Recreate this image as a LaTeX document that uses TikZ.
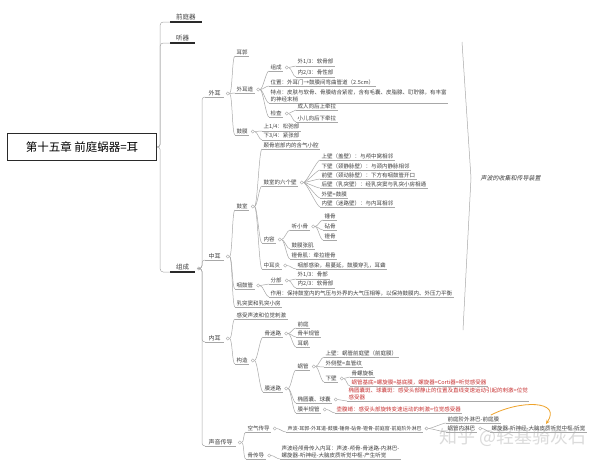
\documentclass[tikz,border=0pt]{standalone}
\usepackage{fontspec}
\setmainfont{Noto Sans CJK SC}
\newfontfamily\cjkit[FakeSlant=0.2]{Noto Sans CJK SC}
\usetikzlibrary{arrows.meta}
\definecolor{txt}{HTML}{404040}
\definecolor{ln}{HTML}{A8A8A8}
\definecolor{rd}{HTML}{C83232}
\definecolor{org}{HTML}{EFA32B}
\definecolor{wm}{HTML}{D2D2D2}
\definecolor{dk}{HTML}{2A2A2A}
\tikzset{
 item/.style={anchor=south west, inner xsep=1.5pt, inner ysep=1.2pt, text=txt, font=\fontsize{5.5}{6.3}\selectfont},
 topitem/.style={anchor=south west, inner xsep=6pt, inner ysep=1.5pt, text=txt, font=\fontsize{6.5}{7.5}\selectfont},
 uline/.style={draw=ln, line width=0.5pt},
 topline/.style={draw=dk, line width=1.3pt},
 conn/.style={draw=ln, line width=0.5pt},
 knob/.style={circle, draw=ln, line width=0.4pt, minimum size=3.2pt, inner sep=0pt, anchor=west},
 redtxt/.style={text=rd},
 rootbox/.style={draw=dk, line width=1.4pt, fill=white, minimum width=149pt, minimum height=27pt, font=\fontsize{11.5}{12}\selectfont, text=black},
 orarrow/.style={draw=org, line width=0.8pt, -{Stealth[length=4pt,width=3.5pt]}},
}
\newcommand\itm[4][]{\node[item,#1] (#2) at (#3) {#4};\draw[uline] (#2.south west) -- (#2.south east);}
\newcommand\topitm[3]{\node[topitem] (#1) at (#2) {#3};\draw[topline] (#1.south west) -- (#1.south east);}
\newcommand\knb[1]{\node[knob] (#1k) at ([xshift=1.5pt,yshift=3.5pt]#1.south east) {};}
\newcommand\cns[2]{\foreach \c in {#2}{\draw[conn] (#1k.east) .. controls +(3,0) and +(-3,0) .. (\c.south west);}}
\begin{document}
\begin{tikzpicture}[x=1pt,y=-1pt]
\fill[white] (0,0) rectangle (600,466);
\useasboundingbox (0,0) rectangle (600,466);
% watermark
\node[text=wm, font=\fontsize{18}{18}\selectfont, opacity=0.8] (wmk) at (513,437) {知乎 @轻基骑灰石};
% root
\node[rootbox] (root) at (82,147) {第十五章 前庭蜗器=耳};
\topitm{qtq}{170,22}{前庭器}
\topitm{tq}{170,43}{听器}
\topitm{zc}{170,272}{组成}
\knb{zc}
\foreach \c in {qtq,tq,zc}{\draw[conn,rounded corners=3pt] (root.east) -- ++(3,0) |- (\c.south west);}
% level 2
\node[item,inner xsep=3.5pt,font=\fontsize{6}{7}\selectfont] (wai) at (205,97) {外耳};\draw[uline] (wai.south west) -- (wai.south east);
\node[item,inner xsep=3.5pt,font=\fontsize{6}{7}\selectfont] (zhong) at (205,260) {中耳};\draw[uline] (zhong.south west) -- (zhong.south east);
\node[item,inner xsep=3.5pt,font=\fontsize{6}{7}\selectfont] (nei) at (205,342) {内耳};\draw[uline] (nei.south west) -- (nei.south east);
\node[item,inner xsep=3.5pt,font=\fontsize{6}{7}\selectfont] (sy) at (205,446) {声音传导};\draw[uline] (sy.south west) -- (sy.south east);
\knb{wai}\knb{zhong}\knb{nei}\knb{sy}
\foreach \c in {wai,zhong,nei,sy}{\draw[conn,rounded corners=3pt] (zck.east) -- ++(1.5,0) |- (\c.south west);}
% 外耳
\itm{eg}{235,56}{耳郭}
\itm{wed}{235,93}{外耳道}\knb{wed}
\itm{gm}{235,135}{鼓膜}\knb{gm}
\cns{wai}{eg,wed,gm}
\itm{wedzc}{269,71}{组成}\knb{wedzc}
\itm{rg}{296,66}{外1/3：软骨部}
\itm{gx}{296,77}{内2/3：骨性部}
\cns{wedzc}{rg,gx}
\itm{wz}{269,86}{位置：外耳门→鼓膜间弯曲管道（2.5cm）}
\itm[align=left]{td}{269,103}{特点：皮肤与软骨、骨膜结合紧密，含有毛囊、皮脂腺、耵聍腺，有丰富\\的神经末梢}
\itm{jc}{269,117}{检查}\knb{jc}
\itm{cr}{296,110}{成人向后上牵拉}
\itm{xe}{296,122}{小儿向后下牵拉}
\cns{jc}{cr,xe}
\cns{wed}{wedzc,wz,td,jc}
\itm{sz}{262,131}{上1/4：松弛部}
\itm{xz}{262,140}{下3/4：紧张部}
\cns{gm}{sz,xz}
% 中耳
\itm{gs}{235,210}{鼓室}\knb{gs}
\itm{ygg}{235,289}{咽鼓管}\knb{ygg}
\itm{rt}{235,307}{乳突窦和乳突小房}
\cns{zhong}{gs,ygg,rt}
\itm{nq}{262,149}{颞骨岩部内的含气小腔}
\itm{lb}{262,186}{鼓室的六个壁}\knb{lb}
\itm{sb}{320,160}{上壁（盖壁）：与颅中窝相邻}
\itm{xb}{320,170}{下壁（颈静脉壁）：与颈内静脉相邻}
\itm{qb}{320,179}{前壁（颈动脉壁）：下方有咽鼓管开口}
\itm{hb}{320,188}{后壁（乳突壁）：经乳突窦与乳突小房相通}
\itm{wb}{320,198}{外壁=鼓膜}
\itm{nb}{320,207}{内壁（迷路壁）：与内耳相邻}
\cns{lb}{sb,xb,qb,hb,wb,nb}
\itm{nr}{262,243}{内容}\knb{nr}
\itm{txg}{290,230}{听小骨}\knb{txg}
\itm{cg}{323,220}{锤骨}
\itm{zg}{323,230}{砧骨}
\itm{dg}{323,240}{镫骨}
\cns{txg}{cg,zg,dg}
\itm{gmzj}{290,249}{鼓膜张肌}
\itm{dgj}{290,259}{镫骨肌：牵拉镫骨}
\cns{nr}{txg,gmzj,dgj}
\itm{zey}{262,269}{中耳炎}\knb{zey}
\itm{zeyt}{296,269}{咽部感染，易蔓延，鼓膜穿孔，耳聋}
\cns{zey}{zeyt}
\cns{gs}{nq,lb,nr,zey}
\itm{fb}{269,284}{分部}\knb{fb}
\itm{gb}{296,279}{外1/3：骨部}
\itm{rgb}{296,288}{内2/3：软骨部}
\cns{fb}{gb,rgb}
\itm{zy}{269,297}{作用：保持鼓室内的气压与外界的大气压相等，以保持鼓膜内、外压力平衡}
\cns{ygg}{fb,zy}
% 内耳
\itm{gsw}{235,319}{感受声波和位觉刺激}
\itm{gz}{235,364}{构造}\knb{gz}
\cns{nei}{gsw,gz}
\itm{gml}{263,337}{骨迷路}\knb{gml}
\itm{qt}{296,328}{前庭}
\itm{gbg}{296,337}{骨半规管}
\itm{ew}{296,347}{耳蜗}
\cns{gml}{qt,gbg,ew}
\itm{mml}{263,392}{膜迷路}\knb{mml}
\cns{gz}{gml,mml}
\itm{wg}{296,370}{蜗管}\knb{wg}
\itm{wsb}{324,357}{上壁：蜗管前庭壁（前庭膜）}
\itm{wcb}{324,367}{外侧壁=血管纹}
\itm{wxb}{324,382}{下壁}\knb{wxb}
\cns{wg}{wsb,wcb,wxb}
\itm{lxb}{350,377}{骨螺旋板}
\itm[redtxt]{jdm}{350,386}{蜗管基底=螺旋膜=基底膜，螺旋器=Corti器=听觉感受器}
\cns{wxb}{lxb,jdm}
\itm{tyn}{296,403}{椭圆囊、球囊}\knb{tyn}
\itm[redtxt,align=left]{tyb}{347,401}{椭圆囊斑、球囊斑：感受头部静止的位置及直线变速运动引起的刺激=位觉\\感受器}
\cns{tyn}{tyb}
\itm{mbg}{296,413}{膜半规管}\knb{mbg}
\itm[redtxt]{fhj}{335,413}{壶腹嵴：感受头部旋转变速运动的刺激=位觉感受器}
\cns{mbg}{fhj}
\cns{mml}{wg,tyn,mbg}
% 声音传导
\itm{kq}{246,432}{空气传导}\knb{kq}
\itm[font=\fontsize{5}{6}\selectfont]{kql}{286,432}{声波-耳郭-外耳道-鼓膜-锤骨-砧骨-镫骨-前庭窗-前庭阶外淋巴}\knb{kql}
\cns{kq}{kql}
\itm{qtj}{446,423}{前庭阶外淋巴-前庭膜}
\itm{wgn}{446,432}{蜗管内淋巴}\knb{wgn}
\cns{kql}{qtj,wgn}
\itm{lxq}{490,432}{螺旋器-听神经-大脑皮质听觉中枢-听觉}
\cns{wgn}{lxq}
\itm{gcd}{246,459}{骨传导}\knb{gcd}
\itm[align=left]{gcdt}{280,459}{声波经颅骨传入内耳：声波-颅骨-骨迷路-内淋巴-\\螺旋器-听神经-大脑皮质听觉中枢-产生听觉}
\cns{gcd}{gcdt}
\cns{sy}{kq,gcd}
\coordinate (arrtip) at (546,424);
\draw[orarrow] ([xshift=-10pt]qtj.north east) .. controls (520,400) and (562,400) .. (arrtip);
% summary bracket
\coordinate (b1) at (462,42);
\coordinate (b2) at (471,178);
\coordinate (b3) at (463,330);
\draw[conn] (b1) -- (b2) -- (b3);
\node[anchor=west, text=txt, font=\cjkit\fontsize{6}{7}\selectfont] (sum) at (477,178) {声波的收集和传导装置};
\end{tikzpicture}
\end{document}
